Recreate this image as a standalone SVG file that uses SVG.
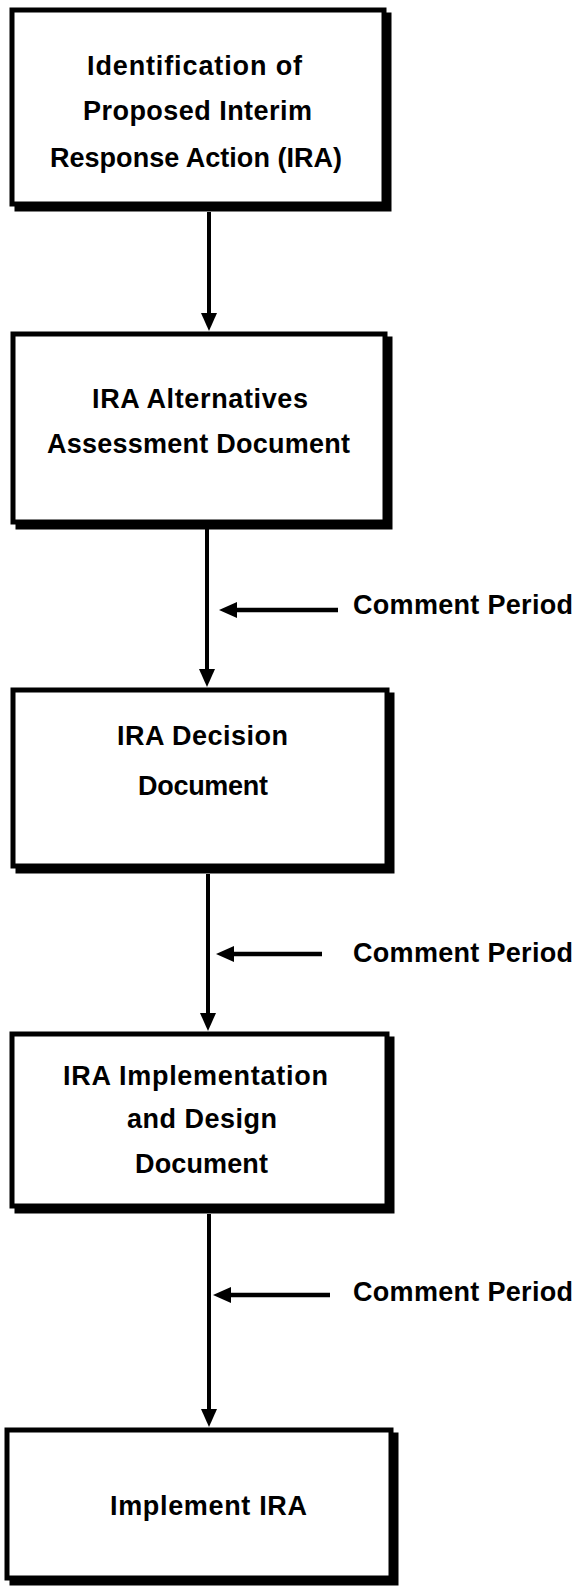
<svg xmlns="http://www.w3.org/2000/svg" width="578" height="1589" viewBox="0 0 578 1589">
  <style>
    .frame { fill: #ffffff; stroke: #000000; stroke-width: 5; }
    .shadow { fill: #000000; stroke: #000000; stroke-width: 5; }
    .lbl { font-family: "Liberation Sans", Arial, sans-serif; font-weight: bold; font-size: 27px; fill: #000000; }
    .wire { stroke: #000000; stroke-width: 4; fill: none; }
    .note { stroke: #000000; stroke-width: 4.5; fill: none; }
  </style>
  <defs>
    <marker id="arrow" viewBox="0 0 18 16" refX="8" refY="8" markerWidth="18" markerHeight="16" markerUnits="userSpaceOnUse" orient="auto">
      <path d="M0,0 L18,8 L0,16 Z" fill="#000000"/>
    </marker>
  </defs>
  <rect width="578" height="1589" fill="#ffffff"/>

  <!-- connectors -->
  <g id="connectors">
    <line class="wire" x1="209" y1="212" x2="209" y2="321" marker-end="url(#arrow)"/>
    <line class="wire" x1="207" y1="529" x2="207" y2="677" marker-end="url(#arrow)"/>
    <line class="wire" x1="208" y1="874" x2="208" y2="1021" marker-end="url(#arrow)"/>
    <line class="wire" x1="209" y1="1214" x2="209" y2="1417" marker-end="url(#arrow)"/>

    <line class="note" x1="338" y1="610" x2="229" y2="610" marker-end="url(#arrow)"/>
    <line class="note" x1="322" y1="954" x2="226" y2="954" marker-end="url(#arrow)"/>
    <line class="note" x1="330" y1="1295" x2="223" y2="1295" marker-end="url(#arrow)"/>
  </g>

  <g id="comment-1"><text class="lbl" x="353" y="614" textLength="220" lengthAdjust="spacing">Comment Period</text></g>
  <g id="comment-2"><text class="lbl" x="353" y="962" textLength="220" lengthAdjust="spacing">Comment Period</text></g>
  <g id="comment-3"><text class="lbl" x="353" y="1301" textLength="220" lengthAdjust="spacing">Comment Period</text></g>

  <!-- step boxes -->
  <g id="identify-ira">
    <rect class="shadow" x="17" y="15" width="372" height="194"/>
    <rect class="frame" x="12" y="10" width="372" height="194"/>
    <text class="lbl" x="87" y="75" textLength="215" lengthAdjust="spacing">Identification of</text>
    <text class="lbl" x="83" y="120" textLength="229" lengthAdjust="spacing">Proposed Interim</text>
    <text class="lbl" x="50" y="167" textLength="292" lengthAdjust="spacing">Response Action (IRA)</text>
  </g>

  <g id="alternatives-assessment">
    <rect class="shadow" x="18" y="339" width="372" height="188"/>
    <rect class="frame" x="13" y="334" width="372" height="188"/>
    <text class="lbl" x="92" y="408" textLength="216" lengthAdjust="spacing">IRA Alternatives</text>
    <text class="lbl" x="47" y="453" textLength="303" lengthAdjust="spacing">Assessment Document</text>
  </g>

  <g id="decision-document">
    <rect class="shadow" x="18" y="695" width="374" height="176"/>
    <rect class="frame" x="13" y="690" width="374" height="176"/>
    <text class="lbl" x="117" y="745" textLength="171" lengthAdjust="spacing">IRA Decision</text>
    <text class="lbl" x="138" y="795" textLength="130" lengthAdjust="spacing">Document</text>
  </g>

  <g id="implementation-design">
    <rect class="shadow" x="17" y="1039" width="375" height="172"/>
    <rect class="frame" x="12" y="1034" width="375" height="172"/>
    <text class="lbl" x="63" y="1085" textLength="265" lengthAdjust="spacing">IRA Implementation</text>
    <text class="lbl" x="127" y="1128" textLength="150" lengthAdjust="spacing">and Design</text>
    <text class="lbl" x="135" y="1173" textLength="133" lengthAdjust="spacing">Document</text>
  </g>

  <g id="implement-ira">
    <rect class="shadow" x="12" y="1435" width="384" height="148"/>
    <rect class="frame" x="7" y="1430" width="384" height="148"/>
    <text class="lbl" x="110" y="1515" textLength="197" lengthAdjust="spacing">Implement IRA</text>
  </g>
</svg>
